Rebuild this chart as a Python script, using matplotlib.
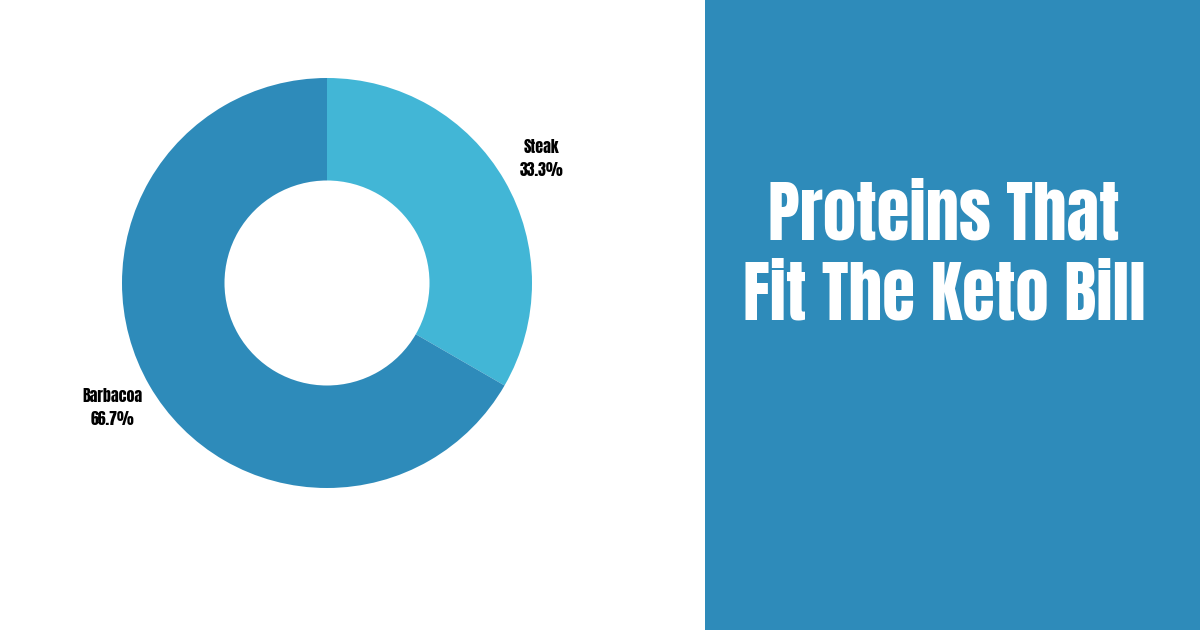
import matplotlib
matplotlib.use("Agg")
import matplotlib.pyplot as plt
from matplotlib import font_manager
from matplotlib.patches import Rectangle

# ----------------------------
# Data
# ----------------------------
categories = ["Steak", "Barbacoa"]
counts = [1, 2]
colors = ["#42B6D6", "#2E8BBA"]
title_lines = ["Proteins That", "Fit The Keto Bill"]

W, H = 1200, 630

# pick a narrow heavy face with lower case that is installed
installed = {f.name for f in font_manager.fontManager.ttflist}
wanted = ["Anton", "Oswald", "Roboto Condensed", "Liberation Sans Narrow",
          "Open Sans Condensed", "Noto Sans Condensed", "Liberation Sans", "Roboto"]
face = next((f for f in wanted if f in installed), "DejaVu Sans")
fonts = [face, "DejaVu Sans"]

fig = plt.figure(figsize=(W / 100, H / 100), dpi=100)
fig.patch.set_facecolor("white")

# right-hand panel
bg = fig.add_axes([0, 0, 1, 1])
bg.set_xlim(0, W)
bg.set_ylim(H, 0)
bg.axis("off")
bg.add_patch(Rectangle((705, 0), W - 705, H, color="#2E8BBA", lw=0))
t1 = bg.text(944, 214, title_lines[0], color="white", fontsize=50, fontweight="bold",
             family=fonts, ha="center", va="center")
t2 = bg.text(944, 294, title_lines[1], color="white", fontsize=50, fontweight="bold",
             family=fonts, ha="center", va="center")

# donut
cx, cy, r = 327, 283, 205
ax = fig.add_axes([(cx - r) / W, (H - cy - r) / H, 2 * r / W, 2 * r / H])
total = sum(counts)
labels = [f"{c}\n{v / total * 100:.1f}%" for c, v in zip(categories, counts)]
_, texts = ax.pie(counts, labels=labels, colors=colors, startangle=90, counterclock=False,
                  radius=1.0, labeldistance=1.21, frame=True,
                  wedgeprops=dict(width=0.5, linewidth=0),
                  textprops=dict(ha="center", va="center", fontsize=11.5, fontweight="bold",
                                 family=fonts, color="black", linespacing=1.5))
ax.set_xlim(-1, 1)
ax.set_ylim(-1, 1)
ax.set_aspect("equal")
ax.axis("off")

# fit title width to the reference (~402 px for the long line)
fig.canvas.draw()
rend = fig.canvas.get_renderer()
w2 = t2.get_window_extent(rend).width
size = min(50 * 402 / w2, 64)
t1.set_fontsize(size)
t2.set_fontsize(size)

# fit label width (~60 px for "Barbacoa")
wb = texts[1].get_window_extent(rend).width
lsize = min(11.5 * 60 / wb, 14)
for t in texts:
    t.set_fontsize(lsize)

fig.savefig("out.png", dpi=100)
